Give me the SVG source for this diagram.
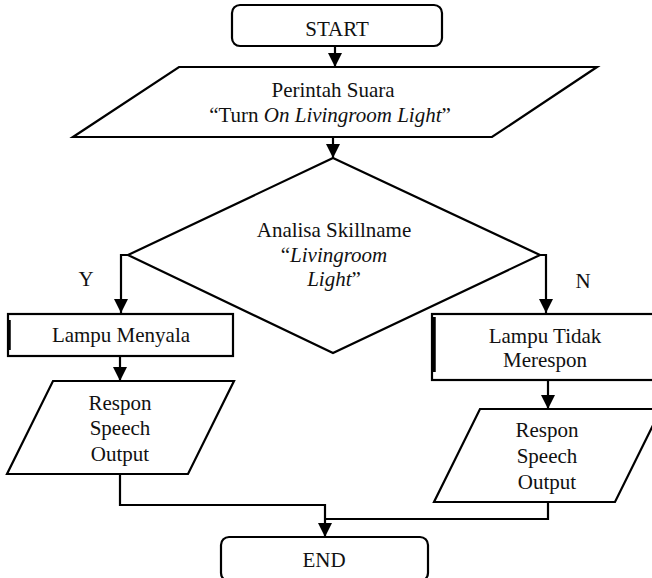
<svg xmlns="http://www.w3.org/2000/svg" width="652" height="578" viewBox="0 0 652 578">
  <defs>
    <marker id="arrow" viewBox="0 0 14 15" refX="14" refY="7" markerWidth="14" markerHeight="15" markerUnits="userSpaceOnUse" orient="auto">
      <path d="M0,0 L14,7 L0,14 Z" fill="#000"/>
    </marker>
    <style>
      .shape { fill: #fff; stroke: #000; stroke-width: 2.2; stroke-linejoin: miter; }
      .edge { fill: none; stroke: #000; stroke-width: 2.2; }
      .mark { stroke: #000; stroke-width: 3.5; }
      .txt { font-family: 'Liberation Serif', 'Times New Roman', serif; font-size: 21px; fill: #111; text-anchor: middle; }
      .it { font-style: italic; }
    </style>
  </defs>

  <rect width="652" height="578" fill="#fff"/>

  <!-- connectors -->
  <g id="connectors">
    <path class="edge" d="M335,46 V67" marker-end="url(#arrow)"/>
    <path class="edge" d="M333,137 V158" marker-end="url(#arrow)"/>
    <path class="edge" d="M128,255 H121 V313" marker-end="url(#arrow)"/>
    <path class="edge" d="M540,255 H546 V313" marker-end="url(#arrow)"/>
    <path class="edge" d="M120,356 V381" marker-end="url(#arrow)"/>
    <path class="edge" d="M548,380 V409" marker-end="url(#arrow)"/>
    <path class="edge" d="M120,474 V505 H325 V537" marker-end="url(#arrow)"/>
    <path class="edge" d="M548,502 V519 H325"/>
    <text class="txt" x="86" y="286">Y</text>
    <text class="txt" x="583" y="288">N</text>
  </g>

  <!-- start terminator -->
  <g id="start">
    <rect class="shape" x="232" y="5" width="210" height="41" rx="8" ry="8"/>
    <text class="txt" x="337" y="36">START</text>
  </g>

  <!-- voice command input -->
  <g id="voice-command">
    <polygon class="shape" points="179,67 597,67 492,137 73,137"/>
    <text class="txt" x="333" y="97">Perintah Suara</text>
    <text class="txt" x="330" y="122">“Turn <tspan class="it">On Livingroom Light</tspan>”</text>
  </g>

  <!-- skill name decision -->
  <g id="skill-decision">
    <polygon class="shape" points="333,158 540,255 333,353 128,255"/>
    <text class="txt" x="334" y="237">Analisa Skillname</text>
    <text class="txt" x="334" y="262">“<tspan class="it">Livingroom</tspan></text>
    <text class="txt" x="334" y="286"><tspan class="it">Light</tspan>”</text>
  </g>

  <!-- yes branch: lamp on -->
  <g id="lamp-on">
    <rect class="shape" x="8" y="314" width="225" height="42"/>
    <line class="mark" x1="9" y1="320" x2="9" y2="350"/>
    <text class="txt" x="121" y="342">Lampu Menyala</text>
  </g>

  <g id="speech-yes">
    <polygon class="shape" points="53,381 234,381 188,474 7,474"/>
    <text class="txt" x="120" y="410">Respon</text>
    <text class="txt" x="120" y="435">Speech</text>
    <text class="txt" x="120" y="461">Output</text>
  </g>

  <!-- no branch: lamp does not respond -->
  <g id="lamp-no-response">
    <rect class="shape" x="432" y="314" width="230" height="66"/>
    <line class="mark" x1="434" y1="317" x2="434" y2="372"/>
    <text class="txt" x="545" y="343">Lampu Tidak</text>
    <text class="txt" x="545" y="367">Merespon</text>
  </g>

  <g id="speech-no">
    <polygon class="shape" points="480,409 661,409 615,502 434,502"/>
    <text class="txt" x="547" y="437">Respon</text>
    <text class="txt" x="547" y="463">Speech</text>
    <text class="txt" x="547" y="489">Output</text>
  </g>

  <!-- end terminator -->
  <g id="end">
    <rect class="shape" x="221" y="537" width="207" height="44" rx="8" ry="8"/>
    <text class="txt" x="324" y="567">END</text>
  </g>
</svg>
